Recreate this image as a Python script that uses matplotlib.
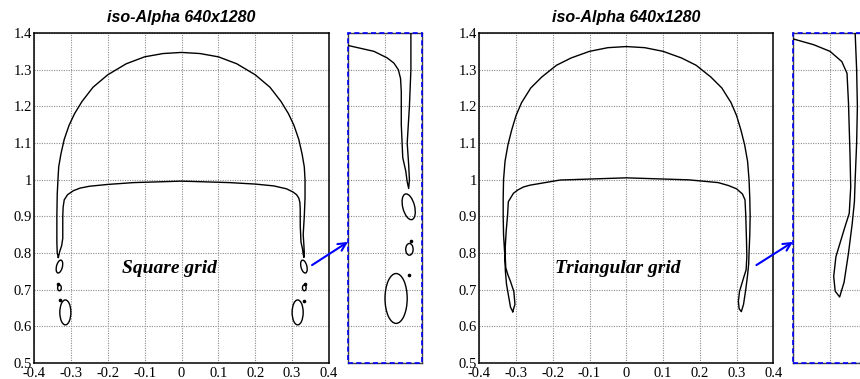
import matplotlib
matplotlib.use("Agg")
import matplotlib.pyplot as plt
from matplotlib.patches import Ellipse, Rectangle

# ---------------- data ----------------
titles = ["iso-Alpha 640x1280", "iso-Alpha 640x1280"]
labels = ["Square grid", "Triangular grid"]
xticks = [-0.4, -0.3, -0.2, -0.1, 0.0, 0.1, 0.2, 0.3, 0.4]
xticklabels = ["-0.4", "-0.3", "-0.2", "-0.1", "0", "0.1", "0.2", "0.3", "0.4"]
yticks = [0.5, 0.6, 0.7, 0.8, 0.9, 1.0, 1.1, 1.2, 1.3, 1.4]
yticklabels = ["0.5", "0.6", "0.7", "0.8", "0.9", "1", "1.1", "1.2", "1.3", "1.4"]
inset_xlim = [0.25, 0.35]
inset_ylim = [0.55, 1.0]
inset_xticks = [0.25, 0.30, 0.35]
inset_yticks = [0.55, 0.60, 0.65, 0.70, 0.75, 0.80, 0.85, 0.90, 0.95, 1.0]

# Square grid: closed interface contour
sq_x = [-0.334, -0.337, -0.338, -0.338, -0.337, -0.335, -0.333, -0.327, -0.318, -0.305,
        -0.290, -0.270, -0.240, -0.200, -0.150, -0.100, -0.050, 0.000, 0.050, 0.100,
        0.150, 0.200, 0.240, 0.270, 0.290, 0.305, 0.318, 0.327, 0.333, 0.335,
        0.335, 0.333, 0.330, 0.332, 0.333, 0.332, 0.330, 0.328, 0.324, 0.322,
        0.322, 0.321, 0.318, 0.312, 0.303, 0.285, 0.250, 0.200, 0.130, 0.000,
        -0.130, -0.200, -0.250, -0.275, -0.293, -0.309, -0.318, -0.321, -0.322, -0.322,
        -0.325, -0.330, -0.334]
sq_y = [0.788, 0.800, 0.830, 0.900, 0.960, 1.000, 1.035, 1.070, 1.110, 1.148,
        1.180, 1.213, 1.252, 1.286, 1.316, 1.335, 1.344, 1.347, 1.344, 1.335,
        1.316, 1.286, 1.252, 1.213, 1.180, 1.148, 1.110, 1.070, 1.035, 1.000,
        0.950, 0.900, 0.850, 0.820, 0.800, 0.788, 0.797, 0.812, 0.830, 0.875,
        0.920, 0.938, 0.950, 0.959, 0.966, 0.975, 0.983, 0.988, 0.992, 0.996,
        0.992, 0.987, 0.982, 0.977, 0.970, 0.959, 0.945, 0.925, 0.900, 0.840,
        0.820, 0.805, 0.788]

# Square grid: detached droplets (ellipses)
drop_x = [0.332, 0.333, 0.315, -0.331, -0.331, -0.315]
drop_y = [0.763, 0.705, 0.638, 0.763, 0.705, 0.638]
drop_w = [0.016, 0.010, 0.030, 0.016, 0.010, 0.030]
drop_h = [0.036, 0.016, 0.068, 0.036, 0.016, 0.068]
drop_a = [14, 0, 0, -14, 0, 0]
dot_x = [0.335, 0.332, -0.334, -0.329]
dot_y = [0.716, 0.670, 0.716, 0.672]

# Triangular grid: closed interface contour
tr_x = [-0.309, -0.315, -0.321, -0.326, -0.329, -0.331, -0.334, -0.335, -0.335, -0.334,
        -0.330, -0.322, -0.312, -0.300, -0.285, -0.260, -0.230, -0.190, -0.150, -0.100,
        -0.050, 0.000, 0.050, 0.100, 0.150, 0.190, 0.230, 0.260, 0.285, 0.300,
        0.312, 0.322, 0.330, 0.334, 0.336, 0.337, 0.336, 0.334, 0.333, 0.330,
        0.325, 0.319, 0.313, 0.307, 0.305, 0.308, 0.314, 0.320, 0.326, 0.328,
        0.327, 0.325, 0.323, 0.316, 0.300, 0.278, 0.250, 0.170, 0.000, -0.180,
        -0.262, -0.280, -0.295, -0.307, -0.321, -0.323, -0.327, -0.330, -0.328, -0.322,
        -0.315, -0.306, -0.303, -0.309]
tr_y = [0.640, 0.652, 0.686, 0.715, 0.750, 0.800, 0.850, 0.900, 0.950, 1.000,
        1.050, 1.095, 1.135, 1.175, 1.210, 1.250, 1.280, 1.312, 1.332, 1.350,
        1.360, 1.363, 1.360, 1.350, 1.332, 1.312, 1.280, 1.250, 1.210, 1.175,
        1.135, 1.095, 1.050, 1.000, 0.950, 0.900, 0.850, 0.800, 0.770, 0.740,
        0.700, 0.660, 0.640, 0.648, 0.668, 0.695, 0.715, 0.735, 0.754, 0.790,
        0.836, 0.904, 0.945, 0.961, 0.975, 0.984, 0.992, 0.9995, 1.005, 0.999,
        0.985, 0.980, 0.972, 0.963, 0.940, 0.904, 0.858, 0.804, 0.760, 0.740,
        0.722, 0.695, 0.660, 0.640]

arrow_start = [0.354, 0.767]
arrow_end_frac = 0.367

# ---------------- plotting ----------------
W, H = 860, 379
fig = plt.figure(figsize=(W / 100, H / 100), dpi=100)

serif = ["Liberation Serif", "DejaVu Serif"]
sans = ["Liberation Sans", "DejaVu Sans"]

main_pos = [[34 / W, 16 / H, 295 / W, 330 / H], [479.3 / W, 16 / H, 294 / W, 330 / H]]
inset_pos = [[348 / W, 16 / H, 74 / W, 330 / H], [793 / W, 16 / H, 74 / W, 330 / H]]
label_x = [-0.0325, -0.022]
curves = [(sq_x, sq_y), (tr_x, tr_y)]

grid_kw = dict(color="0.55", linestyle=(0, (1, 1.2)), linewidth=0.8)


def draw_content(ax, k):
    cx, cy = curves[k]
    ax.plot(cx, cy, color="black", lw=1.0, zorder=3)
    if k == 0:
        for x, y, w, h, a in zip(drop_x, drop_y, drop_w, drop_h, drop_a):
            ax.add_patch(Ellipse((x, y), w, h, angle=a, fill=False, ec="black", lw=1.0, zorder=3))
        ax.plot(dot_x, dot_y, "o", color="black", ms=1.6, zorder=3)


for k in range(2):
    ax = fig.add_axes(main_pos[k])
    draw_content(ax, k)
    ax.set_xlim(-0.4, 0.4)
    ax.set_ylim(0.5, 1.4)
    ax.set_xticks(xticks)
    ax.set_xticklabels(xticklabels)
    ax.set_yticks(yticks)
    ax.set_yticklabels(yticklabels)
    ax.tick_params(length=0, labelsize=10.5)
    ax.tick_params(axis="x", pad=3.0)
    ax.tick_params(axis="y", pad=1.5)
    for t in ax.get_xticklabels() + ax.get_yticklabels():
        t.set_fontfamily(serif)
    ax.grid(True, **grid_kw)
    ax.set_axisbelow(True)
    for s in ax.spines.values():
        s.set_linewidth(1.1)
        s.set_color("black")
    ax.set_title(titles[k], fontsize=11.5, fontweight="bold", fontstyle="italic",
                 family=sans, pad=8)
    ax.text(label_x[k], 0.758, labels[k], fontsize=14, fontweight="bold",
            fontstyle="italic", family=serif, ha="center", va="center", zorder=4)

    axi = fig.add_axes(inset_pos[k])
    draw_content(axi, k)
    axi.set_xlim(*inset_xlim)
    axi.set_ylim(*inset_ylim)
    axi.set_xticks(inset_xticks)
    axi.set_yticks(inset_yticks)
    axi.tick_params(length=0, labelbottom=False, labelleft=False)
    axi.grid(True, **grid_kw)
    axi.set_axisbelow(True)
    for s in axi.spines.values():
        s.set_linewidth(1.0)
        s.set_color("0.25")
    axi.add_patch(Rectangle((0, 0), 1, 1, transform=axi.transAxes, fill=False,
                            ec="blue", lw=1.2, ls=(0, (3, 2)), clip_on=False, zorder=5))

    ax.annotate("", xy=(0, arrow_end_frac), xycoords=axi.transAxes,
                xytext=(arrow_start[0], arrow_start[1]), textcoords=ax.transData,
                arrowprops=dict(arrowstyle="->", color="blue", lw=1.5,
                                shrinkA=0, shrinkB=0, mutation_scale=14),
                annotation_clip=False)

fig.savefig("out.png", dpi=100)
